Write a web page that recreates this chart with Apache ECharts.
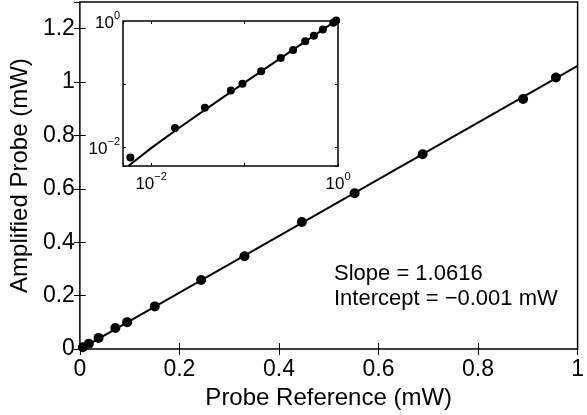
<!DOCTYPE html>
<html>
<head>
<meta charset="utf-8">
<script src="https://cdn.jsdelivr.net/npm/echarts@6/dist/echarts.min.js"></script>
<style>
html, body { margin: 0; padding: 0; background: #fff; }
#chart { width: 587px; height: 415px; }
</style>
</head>
<body>
<div id="chart"></div>
<script>
// measured points (mW)
var probeRef = [0.006, 0.018, 0.0376, 0.0713, 0.095, 0.1505, 0.2436, 0.3307, 0.446, 0.552, 0.6885, 0.8905, 0.9564];
var amplified = [0.0068, 0.020, 0.042, 0.079, 0.101, 0.160, 0.259, 0.348, 0.476, 0.584, 0.730, 0.937, 1.017];
// linear fit, as drawn
var fitX = [0, 1];
var fitY = [-0.001, 1.0606];
var insetFitX = [0.0057, 0.01, 0.02, 0.05, 0.1, 0.3, 1];
var insetFitY = [0.005, 0.0096, 0.0202, 0.0521, 0.1052, 0.3175, 1.0606];
var fitText = ['Slope = 1.0616', 'Intercept = \u22120.001 mW'];

var FONT = '"Liberation Sans", Arial, Helvetica, sans-serif';

function pairs(xs, ys) {
    return xs.map(function (x, i) { return [x, ys[i]]; });
}

function powLabel(v) {
    var e = Math.round(Math.log(v) / Math.LN10);
    if (Math.abs(Math.log(v) / Math.LN10 - e) > 0.01) return '';
    if (e === 0) return '{b|10}{s|0}';
    if (e === -2) return '{b|10}{s|\u22122}';
    return '';
}
var supRich = {
    b: { fontSize: 17, lineHeight: 22, verticalAlign: 'bottom', fontFamily: FONT, color: '#000' },
    s: { fontSize: 11, lineHeight: 11, verticalAlign: 'top', fontFamily: FONT, color: '#000' }
};

var myChart = echarts.init(document.getElementById('chart'));

var mainTick = { show: true, inside: true, length: 6, lineStyle: { color: '#000', width: 1 } };
var insetTick = { show: true, inside: true, length: 3, lineStyle: { color: '#000', width: 1 } };

var option = {
    backgroundColor: '#fff',
    animation: false,
    grid: [
        { left: 77, top: 2, width: 506, height: 351, show: true, borderColor: '#000', borderWidth: 1.5, backgroundColor: '#fff' },
        { left: 123, top: 21, width: 215, height: 145, show: true, borderColor: '#000', borderWidth: 1.5, backgroundColor: '#fff' }
    ],
    xAxis: [
        {
            type: 'value', gridIndex: 0, min: 0, max: 1, interval: 0.2, position: 'bottom',
            axisLine: { show: false }, axisTick: mainTick, splitLine: { show: false },
            axisLabel: { color: '#000', fontSize: 23, fontFamily: FONT, margin: 9 },
            name: 'Probe Reference (mW)', nameLocation: 'middle', nameGap: 19,
            nameTextStyle: { color: '#000', fontSize: 24, fontFamily: FONT }
        },
        {
            type: 'value', gridIndex: 0, min: 0, max: 1, interval: 0.2, position: 'top',
            axisLine: { show: false }, axisTick: mainTick, splitLine: { show: false },
            axisLabel: { show: false }
        },
        {
            type: 'log', gridIndex: 1, min: 0.005, max: 1, position: 'bottom',
            axisLine: { show: false }, axisTick: insetTick, splitLine: { show: false },
            axisLabel: { formatter: powLabel, rich: supRich, margin: 5, showMinLabel: true, showMaxLabel: true }
        },
        {
            type: 'log', gridIndex: 1, min: 0.005, max: 1, position: 'top',
            axisLine: { show: false }, axisTick: insetTick, splitLine: { show: false },
            axisLabel: { show: false }
        }
    ],
    yAxis: [
        {
            type: 'value', gridIndex: 0, min: 0, max: 1.3, interval: 0.2, position: 'left',
            axisLine: { show: false }, axisTick: mainTick, splitLine: { show: false },
            axisLabel: { color: '#000', fontSize: 23, fontFamily: FONT, margin: 5, showMaxLabel: false },
            name: 'Amplified Probe (mW)', nameLocation: 'middle', nameGap: 38,
            nameTextStyle: { color: '#000', fontSize: 24, fontFamily: FONT }
        },
        {
            type: 'value', gridIndex: 0, min: 0, max: 1.3, interval: 0.2, position: 'right',
            axisLine: { show: false }, axisTick: mainTick, splitLine: { show: false },
            axisLabel: { show: false }
        },
        {
            type: 'log', gridIndex: 1, min: 0.005, max: 1, position: 'left',
            axisLine: { show: false }, axisTick: insetTick, splitLine: { show: false },
            axisLabel: { formatter: powLabel, rich: supRich, margin: 3, showMinLabel: true, showMaxLabel: true }
        },
        {
            type: 'log', gridIndex: 1, min: 0.005, max: 1, position: 'right',
            axisLine: { show: false }, axisTick: insetTick, splitLine: { show: false },
            axisLabel: { show: false }
        }
    ],
    series: [
        {
            name: 'fit', type: 'line', xAxisIndex: 0, yAxisIndex: 0,
            data: pairs(fitX, fitY), showSymbol: false, clip: true,
            lineStyle: { color: '#000', width: 2 }, z: 3
        },
        {
            name: 'data', type: 'scatter', xAxisIndex: 0, yAxisIndex: 0,
            data: pairs(probeRef, amplified), symbolSize: 10, clip: false,
            itemStyle: { color: '#000', opacity: 1 }, z: 4
        },
        {
            name: 'fit log', type: 'line', xAxisIndex: 2, yAxisIndex: 2,
            data: pairs(insetFitX, insetFitY), showSymbol: false, clip: true,
            lineStyle: { color: '#000', width: 2 }, z: 3
        },
        {
            name: 'data log', type: 'scatter', xAxisIndex: 2, yAxisIndex: 2,
            data: pairs(probeRef, amplified).filter(function (p) { return p[0] >= 0.005; }),
            symbolSize: 8, clip: false,
            itemStyle: { color: '#000', opacity: 1 }, z: 4
        }
    ],
    graphic: [
        {
            type: 'text', left: 334, top: 261,
            style: { text: fitText.join('\n'), font: '22px ' + FONT, lineHeight: 25, fill: '#000' }
        }
    ]
};

myChart.setOption(option);
window.addEventListener('resize', function () {
    myChart.resize();
});
</script>
</body>
</html>
